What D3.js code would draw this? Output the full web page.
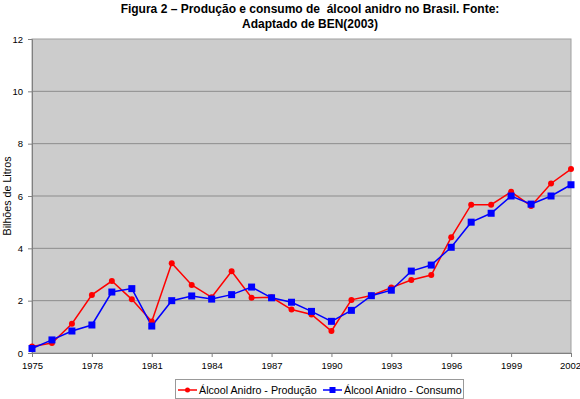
<!DOCTYPE html>
<html>
<head>
<meta charset="utf-8">
<script src="https://cdn.jsdelivr.net/npm/d3@7"></script>
<style>
  body { margin: 0; background: #fff; }
  text { font-family: "Liberation Sans", Arial, sans-serif; }
</style>
</head>
<body>
<script>
// values (bilhoes de litros)
var years = d3.range(1975, 2003);
var producao = [0.25, 0.38, 1.12, 2.22, 2.75, 2.05, 1.2, 3.43, 2.6, 2.13, 3.12, 2.11, 2.13, 1.66, 1.47, 0.84,
  2.03, 2.2, 2.5, 2.79, 2.98, 4.42, 5.67, 5.67, 6.16, 5.62, 6.48, 7.03];
var consumo = [0.17, 0.5, 0.84, 1.07, 2.33, 2.46, 1.03, 2.0, 2.18, 2.06, 2.23, 2.52, 2.11, 1.94, 1.59, 1.21,
  1.63, 2.19, 2.4, 3.13, 3.36, 4.04, 5.0, 5.34, 6.0, 5.69, 6.0, 6.43];
var yTicks = [0, 2, 4, 6, 8, 10, 12];
var xTicks = [1975, 1978, 1981, 1984, 1987, 1990, 1993, 1996, 1999, 2002];
var seriesNames = ["Álcool Anidro - Produção", "Álcool Anidro - Consumo"];
var colors = ["#ff0000", "#0000ff"];

var W = 580, H = 399;
var pLeft = 32, pRight = 571, pTop = 39, pBottom = 353;

var svg = d3.select("body").append("svg").attr("width", W).attr("height", H);

var x = d3.scaleLinear().domain([1975, 2002]).range([pLeft, pRight]);
var y = d3.scaleLinear().domain([0, 12]).range([pBottom, pTop]);

// title
svg.append("text").attr("x", 310).attr("y", 13).attr("text-anchor", "middle")
  .attr("xml:space", "preserve")
  .style("font-weight", "bold").style("font-size", "12px")
  .text("Figura 2 – Produção e consumo de  álcool anidro no Brasil. Fonte:");
svg.append("text").attr("x", 310).attr("y", 28).attr("text-anchor", "middle")
  .style("font-weight", "bold").style("font-size", "12px")
  .text("Adaptado de BEN(2003)");

// plot area
svg.append("rect").attr("x", pLeft).attr("y", pTop).attr("width", pRight - pLeft).attr("height", pBottom - pTop)
  .attr("fill", "#cccccc").attr("stroke", "#a0a0a0").attr("stroke-width", 1);

// gridlines
svg.selectAll(".grid").data(yTicks.slice(1, -1)).enter().append("line")
  .attr("x1", pLeft).attr("x2", pRight)
  .attr("y1", function (d) { return y(d); }).attr("y2", function (d) { return y(d); })
  .attr("stroke", "#8c8c8c").attr("stroke-width", 1);

// axes
var yAxis = d3.axisLeft(y).tickValues(yTicks).tickSize(4).tickPadding(5);
var gy = svg.append("g").attr("transform", "translate(" + pLeft + ",0)").call(yAxis);
var xAxis = d3.axisBottom(x).tickValues(xTicks).tickFormat(d3.format("d")).tickSize(4).tickPadding(5);
var gx = svg.append("g").attr("transform", "translate(0," + pBottom + ")").call(xAxis);
[gx, gy].forEach(function (g) {
  g.select(".domain").attr("stroke", "#808080");
  g.selectAll(".tick line").attr("stroke", "#808080");
  g.selectAll(".tick text").attr("fill", "#000").style("font-size", "9.5px")
    .style("font-family", "'Liberation Sans', Arial, sans-serif");
});
// last year label sits flush with the right edge, as in the figure
gx.selectAll(".tick text").filter(function (d) { return d == 2002; }).attr("dx", "-1");

// y label
svg.append("text").attr("transform", "translate(11," + ((pTop + pBottom) / 2) + ") rotate(-90)")
  .attr("text-anchor", "middle").style("font-size", "10.7px").text("Bilhões de Litros");

// lines
var line = d3.line().x(function (d, i) { return x(years[i]); }).y(function (d) { return y(d); });
[producao, consumo].forEach(function (s, k) {
  svg.append("path").datum(s).attr("d", line).attr("fill", "none")
    .attr("stroke", colors[k]).attr("stroke-width", 1.5);
});
svg.selectAll(".ptP").data(producao).enter().append("circle")
  .attr("cx", function (d, i) { return x(years[i]); }).attr("cy", function (d) { return y(d); })
  .attr("r", 3).attr("fill", colors[0]);
svg.selectAll(".ptC").data(consumo).enter().append("rect")
  .attr("x", function (d, i) { return x(years[i]) - 3.5; }).attr("y", function (d) { return y(d) - 3.5; })
  .attr("width", 7).attr("height", 7).attr("fill", colors[1]);

// legend
var lg = svg.append("g");
lg.append("rect").attr("x", 175.5).attr("y", 379.5).attr("width", 288).attr("height", 19)
  .attr("fill", "#fff").attr("stroke", "#999");
var lx = [178, 323];
seriesNames.forEach(function (n, k) {
  lg.append("line").attr("x1", lx[k]).attr("x2", lx[k] + 19).attr("y1", 390).attr("y2", 390)
    .attr("stroke", colors[k]).attr("stroke-width", 1.5);
  if (k == 0) {
    lg.append("circle").attr("cx", lx[k] + 9.5).attr("cy", 390).attr("r", 2.5).attr("fill", colors[k]);
  } else {
    lg.append("rect").attr("x", lx[k] + 6.5).attr("y", 387).attr("width", 6).attr("height", 6).attr("fill", colors[k]);
  }
  lg.append("text").attr("x", lx[k] + 21).attr("y", 394).style("font-size", "10.7px").text(n);
});
</script>
</body>
</html>
